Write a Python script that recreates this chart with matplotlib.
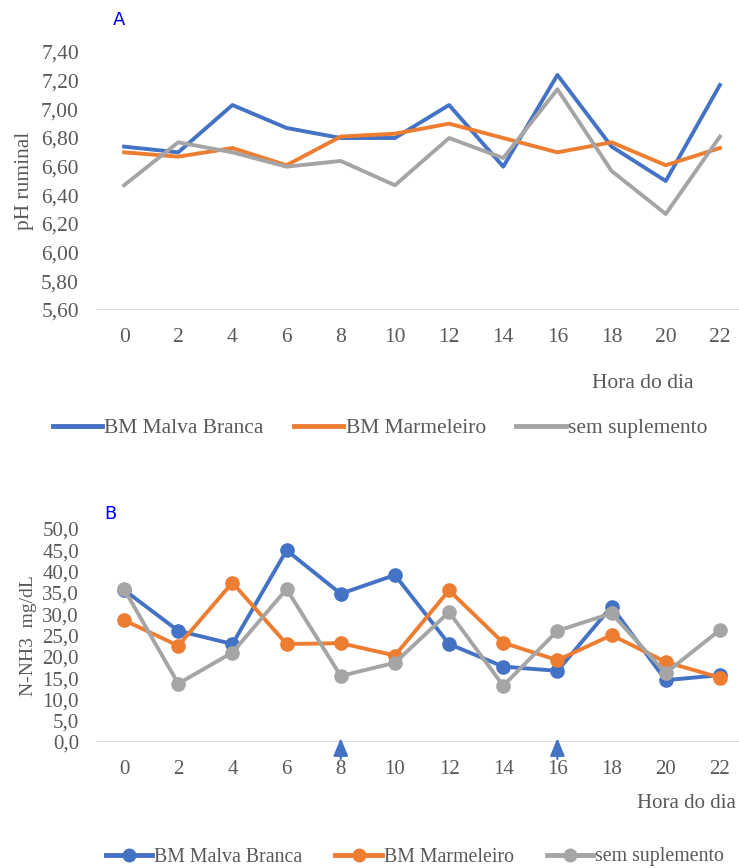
import matplotlib
matplotlib.use("Agg")
import matplotlib.pyplot as plt
from matplotlib.lines import Line2D

hours = ["0", "2", "4", "6", "8", "10", "12", "14", "16", "18", "20", "22"]
series_names = ["BM Malva Branca", "BM Marmeleiro", "sem suplemento"]

ph_malva = [6.74, 6.70, 7.03, 6.87, 6.80, 6.80, 7.03, 6.60, 7.24, 6.74, 6.50, 7.17]
ph_marmeleiro = [6.70, 6.67, 6.73, 6.61, 6.81, 6.83, 6.90, 6.80, 6.70, 6.77, 6.61, 6.73]
ph_sem = [6.47, 6.77, 6.70, 6.60, 6.64, 6.47, 6.80, 6.66, 7.14, 6.57, 6.27, 6.81]

nh3_malva = [35.7, 26.1, 23.0, 45.0, 34.8, 39.2, 23.0, 17.7, 16.7, 31.8, 14.5, 15.7]
nh3_marmeleiro = [28.6, 22.6, 37.4, 23.0, 23.2, 20.3, 35.6, 23.3, 19.2, 25.1, 18.8, 15.1]
nh3_sem = [35.9, 13.7, 21.0, 35.9, 15.5, 18.6, 30.5, 13.2, 26.1, 30.2, 16.2, 26.3]

ph_ticks = [5.6, 5.8, 6.0, 6.2, 6.4, 6.6, 6.8, 7.0, 7.2, 7.4]
nh3_ticks = [0, 5, 10, 15, 20, 25, 30, 35, 40, 45, 50]
arrow_hours = [8, 16]

colors = ["#4472C4", "#ED7D31", "#A5A5A5"]
txt = "#595959"
font = "Liberation Serif"

W, H = 739, 868
fig = plt.figure(figsize=(W / 100, H / 100), dpi=100)

def px_axes(left, top, right, bottom):
    return fig.add_axes([left / W, 1 - bottom / H, (right - left) / W, (bottom - top) / H])

def style(ax, ticks, fmt, ylabel, fs, lfs):
    for s in ax.spines.values():
        s.set_visible(False)
    ax.axhline(ticks[0], color="#D9D9D9", lw=1.3, zorder=0)
    ax.set_yticks(ticks)
    ax.set_yticklabels([fmt(t).replace(".", ",") for t in ticks], fontfamily=font, fontsize=fs, color=txt)
    ax.set_xticks(range(len(hours)))
    ax.set_xticklabels(hours, fontfamily=font, fontsize=fs, color=txt)
    ax.tick_params(length=0, pad=13, axis="x")
    ax.tick_params(length=0, pad=13, axis="y")
    ax.set_xlim(-0.5, len(hours) - 0.5)
    ax.set_ylabel(ylabel, fontfamily=font, fontsize=lfs, color=txt)

x = list(range(len(hours)))

# Chart A
fsA = 15.5
axA = px_axes(97, 52, 747, 310)
for vals, c, n in zip([ph_malva, ph_marmeleiro, ph_sem], colors, series_names):
    axA.plot(x, vals, color=c, lw=2.8, label=n)
axA.set_ylim(5.6, 7.4)
style(axA, ph_ticks, lambda t: f"{t:.2f}", "pH ruminal", fsA, 15.5)
axA.yaxis.set_label_coords(-0.097, 0.5)
fig.text(113 / W, 1 - 20 / H, "A", color="#0000FF", fontsize=13, family="DejaVu Sans", va="center", ha="left")
fig.text(643 / W, 1 - 383 / H, "Hora do dia", family=font, fontsize=fsA, color=txt, ha="center", va="center")

handlesA = [Line2D([], [], color=c, lw=3.5) for c in colors]
fig.legend(handlesA, series_names, loc="center", bbox_to_anchor=(380 / W, 1 - 428 / H), ncol=3, frameon=False,
           prop={"family": font, "size": fsA}, labelcolor=txt, handlelength=2.3, handletextpad=0.1,
           columnspacing=1.4)

# Chart B
fsB = 15
axB = px_axes(97, 529, 747, 742)
for vals, c, n in zip([nh3_malva, nh3_marmeleiro, nh3_sem], colors, series_names):
    axB.plot(x, vals, color=c, lw=2.8, marker="o", markersize=9.5, label=n)
axB.set_ylim(0, 50)
style(axB, nh3_ticks, lambda t: f"{t:.1f}", "N-NH3  mg/dL", fsB, 14)
axB.yaxis.set_label_coords(-0.093, 0.5)
for h in arrow_hours:
    xi = hours.index(str(h))
    axB.annotate("", xy=(xi, 0.9), xytext=(xi, -4.0), xycoords="data", textcoords="data",
                 arrowprops=dict(arrowstyle="-|>,head_width=0.5,head_length=1.2", color="#4472C4", lw=1.5,
                                 shrinkA=0, shrinkB=0, mutation_scale=9),
                 annotation_clip=False)
fig.text(104 / W, 1 - 514 / H, "B", color="#0000FF", fontsize=13, family="DejaVu Sans", va="center", ha="left")
fig.text(686 / W, 1 - 804 / H, "Hora do dia", family=font, fontsize=fsB, color=txt, ha="center", va="center")

handlesB = [Line2D([], [], color=c, lw=3.5, marker="o", markersize=9) for c in colors]
fig.legend(handlesB, series_names, loc="center", bbox_to_anchor=(415 / W, 1 - 857 / H), ncol=3, frameon=False,
           prop={"family": font, "size": 14.3}, labelcolor=txt, handlelength=2.35, handletextpad=0.1,
           columnspacing=1.65)

fig.savefig("out.png", dpi=100)
